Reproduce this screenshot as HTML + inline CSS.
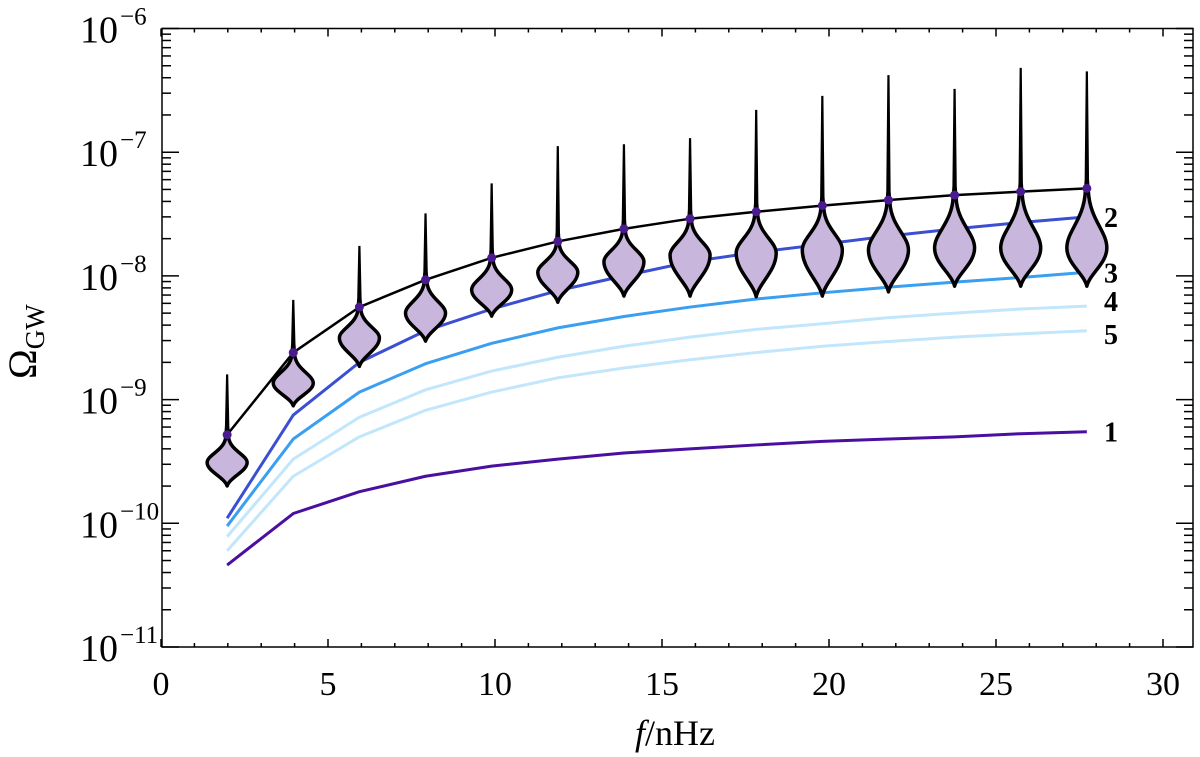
<!DOCTYPE html>
<html><head><meta charset="utf-8"><style>
html,body{margin:0;padding:0;background:#fff;}
svg{display:block;font-family:"Liberation Serif",serif;}
</style></head><body>
<svg id="chart" width="1200" height="757" viewBox="0 0 1200 757" xmlns="http://www.w3.org/2000/svg">
<g id="axes"></g>
<g id="curves"></g>
<g id="violins"></g>
<g id="labels"></g>
<text x="675" y="745" font-size="36" text-anchor="middle"><tspan font-style="italic">f</tspan>/nHz</text>
<text transform="translate(36,379) rotate(-90)" font-size="40">Ω<tspan font-size="27" dy="8">GW</tspan></text>
</svg>
<script>
const freqs = [1.98,3.96,5.94,7.92,9.90,11.88,13.86,15.84,17.82,19.80,21.78,23.76,25.74,27.72];
const curveBlack = [5.2e-10,2.4e-9,5.6e-9,9.3e-9,1.4e-8,1.9e-8,2.4e-8,2.9e-8,3.3e-8,3.7e-8,4.1e-8,4.5e-8,4.8e-8,5.1e-8];
const curve1 = [4.6e-11,1.2e-10,1.8e-10,2.4e-10,2.9e-10,3.3e-10,3.7e-10,4.0e-10,4.3e-10,4.6e-10,4.8e-10,5.0e-10,5.3e-10,5.5e-10];
const curve2 = [1.1e-10,7.5e-10,2.0e-9,3.6e-9,5.4e-9,7.6e-9,1.0e-8,1.3e-8,1.55e-8,1.8e-8,2.1e-8,2.4e-8,2.7e-8,3.0e-8];
const curve3 = [9.5e-11,4.8e-10,1.15e-9,1.95e-9,2.85e-9,3.8e-9,4.7e-9,5.6e-9,6.5e-9,7.3e-9,8.1e-9,8.9e-9,9.7e-9,1.07e-8];
const curve4 = [7.8e-11,3.3e-10,7.2e-10,1.2e-9,1.7e-9,2.2e-9,2.7e-9,3.2e-9,3.7e-9,4.1e-9,4.6e-9,5.0e-9,5.4e-9,5.7e-9];
const curve5 = [6.0e-11,2.4e-10,5.0e-10,8.2e-10,1.15e-9,1.5e-9,1.8e-9,2.1e-9,2.4e-9,2.7e-9,2.95e-9,3.2e-9,3.4e-9,3.6e-9];
const violinTop = [1.6e-9,6.4e-9,1.75e-8,3.2e-8,5.6e-8,1.12e-7,1.16e-7,1.3e-7,2.2e-7,2.85e-7,4.2e-7,3.25e-7,4.8e-7,4.5e-7];
const violinMid = [3.1e-10,1.36e-9,3.15e-9,5.0e-9,7.7e-9,1.07e-8,1.3e-8,1.47e-8,1.53e-8,1.62e-8,1.62e-8,1.68e-8,1.68e-8,1.68e-8];
const violinBottom = [2.16e-10,9.6e-10,2.0e-9,3.2e-9,5.1e-9,6.6e-9,7.4e-9,7.4e-9,7.3e-9,7.4e-9,8.0e-9,8.9e-9,8.9e-9,8.9e-9];
const xTicks = [0,5,10,15,20,25,30];
const yExps = [-6,-7,-8,-9,-10,-11];

const NS="http://www.w3.org/2000/svg";
const L=162,R=1193,T=28.5,B=647;
const X0=161,XS=33.4;
function xs(v){return X0+v*XS;}
function ys(v){return T+(-6-Math.log10(v))*123.7;}
function mk(tag,attrs,parent){const e=document.createElementNS(NS,tag);for(const k in attrs)e.setAttribute(k,attrs[k]);parent.appendChild(e);return e;}

const axes=document.getElementById('axes');
const frame=mk('rect',{x:L,y:T,width:R-L,height:B-T,fill:'none',stroke:'#000','stroke-width':1.5},axes);


for(let v=0;v<=30;v++){
  const x=xs(v);const len=(v%5===0)?8:4;
  const t1=mk('line',{x1:x,x2:x,y1:B,y2:B-len,stroke:'#000','stroke-width':1.5},axes);
  
  
  const t2=mk('line',{x1:x,x2:x,y1:T,y2:T+len,stroke:'#000','stroke-width':1.5},axes);
  
  
}
xTicks.forEach(v=>{
  const t=mk('text',{x:xs(v),y:695,'font-size':34,'text-anchor':'middle'},axes);
  t.textContent=String(v);
  
  
});
for(let e=-11;e<=-6;e++){
  for(let m=1;m<=9;m++){
    if(e===-6&&m>1)break;
    const y=ys(m*Math.pow(10,e));const len=m===1?17:9;
    const a=mk('line',{x1:L,x2:L+len,y1:y,y2:y,stroke:'#000','stroke-width':1.5},axes);
    
    
    const b=mk('line',{x1:R,x2:R-len,y1:y,y2:y,stroke:'#000','stroke-width':1.5},axes);
    
    
  }
}
yExps.forEach(e=>{
  const y=ys(Math.pow(10,e));
  const t=mk('text',{x:118,y:y+14,'font-size':38,'text-anchor':'end'},axes);
  t.textContent='10';
  
  
  const s=mk('text',{x:120,y:y-4,'font-size':25,'text-anchor':'start'},axes);
  s.textContent='−'+(-e);
  
  
});

const curvesG=document.getElementById('curves');
const series=[
  [curve1,'#4a0fa0','curve-1'],
  [curve5,'#c2e6fb','curve-5'],
  [curve4,'#c2e6fb','curve-4'],
  [curve3,'#3a9ff0','curve-3'],
  [curve2,'#3b4fd2','curve-2'],
];
series.forEach(([vals,col,name])=>{
  const p=mk('polyline',{points:vals.map((v,i)=>xs(freqs[i])+','+ys(v)).join(' '),fill:'none',stroke:col,'stroke-width':3,'stroke-linejoin':'round'},curvesG);
  
  
});

const vg=document.getElementById('violins');
freqs.forEach((f,i)=>{
  const x=xs(f),yt=ys(violinTop[i]),yd=ys(curveBlack[i]),yc=ys(violinMid[i]),yb=ys(violinBottom[i]);
  const w=20;
  const n=yd+3;
  const d=`M${x-1.5},${n} L${x+1.5},${n} C${x+3},${n+(yc-n)*0.5} ${x+w},${yc-(yc-n)*0.3} ${x+w},${yc} C${x+w},${yc+(yb-yc)*0.45} ${x+3},${yb-(yb-yc)*0.25} ${x},${yb+4} C${x-3},${yb-(yb-yc)*0.25} ${x-w},${yc+(yb-yc)*0.45} ${x-w},${yc} C${x-w},${yc-(yc-n)*0.3} ${x-3},${n+(yc-n)*0.5} ${x-1.5},${n} Z`;
  const v=mk('path',{d:d,fill:'#c8b6dc',stroke:'#000','stroke-width':3.5,'stroke-linejoin':'round'},vg);
  
  
  const wk=mk('polygon',{points:`${x-1.1},${yt} ${x+1.1},${yt} ${x+2.2},${n-12} ${x+3.2},${n+2} ${x-3.2},${n+2} ${x-2.2},${n-12}`,fill:'#000'},vg);
  
  
});
const bl=mk('polyline',{points:curveBlack.map((v,i)=>xs(freqs[i])+','+ys(v)).join(' '),fill:'none',stroke:'#000','stroke-width':2.5},vg);


freqs.forEach((f,i)=>{
  const c=mk('circle',{cx:xs(f),cy:ys(curveBlack[i]),r:4.5,fill:'#4a1a90'},vg);
  
  
});

const lg=document.getElementById('labels');
[['2',curve2],['3',curve3],['4',curve4],['5',curve5],['1',curve1]].forEach(([lab,vals])=>{
  let y=ys(vals[vals.length-1]);
  if(lab==='4')y-=5; if(lab==='5')y+=3;
  const t=mk('text',{x:1104,y:y+10,'font-size':28,'font-weight':'bold'},lg);
  t.textContent=lab;
  
  
});
</script>
</body></html>
